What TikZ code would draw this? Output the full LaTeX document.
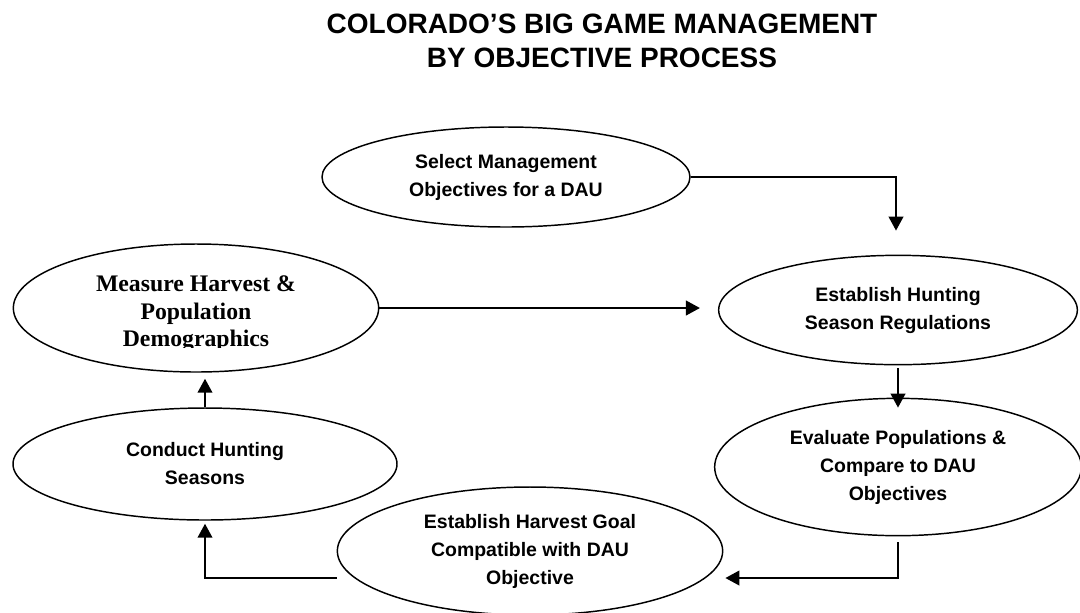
\documentclass[tikz,border=0pt]{standalone}
\usepackage{fontspec}
\setmainfont{Liberation Sans}
\newfontfamily\serifbold{Liberation Serif}
\usepackage{tikz}
\usetikzlibrary{shapes,arrows.meta,calc}

\begin{document}
\begin{tikzpicture}[x=0.75pt,y=-0.75pt,
                stage/.style={ellipse,draw,line width=1.1pt,inner sep=0pt,align=center,
                            font=\fontsize{14.6}{21}\selectfont\bfseries},
                flow/.style={line width=1.5pt,-{Triangle[width=11pt,length=10.5pt]}},
                heading/.style={align=center,font=\fontsize{21}{25}\selectfont\bfseries}
            ]
                \useasboundingbox[fill=white] (0,0) rectangle (1080,612);
                \node[heading] (head) at (602,41) {COLORADO’S BIG GAME MANAGEMENT\\BY OBJECTIVE PROCESS};

                % the six steps of the cycle
                \node[stage,minimum width=276pt,minimum height=75pt] (select) at (506,177) {Select Management\\Objectives for a DAU};
                \node[stage,minimum width=269pt,minimum height=82pt] (hunting) at (898,310) {Establish Hunting\\Season Regulations};
                \node[stage,minimum width=275pt,minimum height=103pt] (evaluate) at (898,467) {Evaluate Populations \&\\Compare to DAU\\Objectives};
                \node[stage,minimum width=289pt,minimum height=96pt] (harvest) at (530,551) {Establish Harvest Goal\\Compatible with DAU\\Objective};
                \node[stage,minimum width=288pt,minimum height=84pt] (conduct) at (205,464) {Conduct Hunting\\Seasons};
                \node[stage,minimum width=274pt,minimum height=96pt] (measure) at (196,308) {};
                % text box of the measuring step cuts off the last line
                \begin{scope}
                    \clip (0,240) rectangle (400,347);
                    \node[align=center,font=\fontsize{17.8}{20.6}\serifbold\bfseries] (measuretxt) at (196,314) {Measure Harvest \&\\Population\\Demographics};
                \end{scope}

                % connectors
                \coordinate (loop) at (530,578);
                \draw[flow] (select.east) -| ($(hunting.north)+(-2,-24)$);
                \draw[flow] (measure.east) -- ($(measure.east -| hunting.west)+(-18,0)$);
                \draw[flow] ($(hunting.south)+(0,3)$) -- ($(evaluate.north)+(0,10)$);
                \draw[flow] ($(evaluate.south)+(0,6)$) |- ($(harvest.east |- loop)+(2,0)$);
                \draw[flow] (harvest.west |- loop) -| ($(conduct.south)+(0,3)$);
                \draw[flow] (conduct.north) -- ($(conduct.north |- measure.south)+(0,6)$);
            \end{tikzpicture}
\end{document}
